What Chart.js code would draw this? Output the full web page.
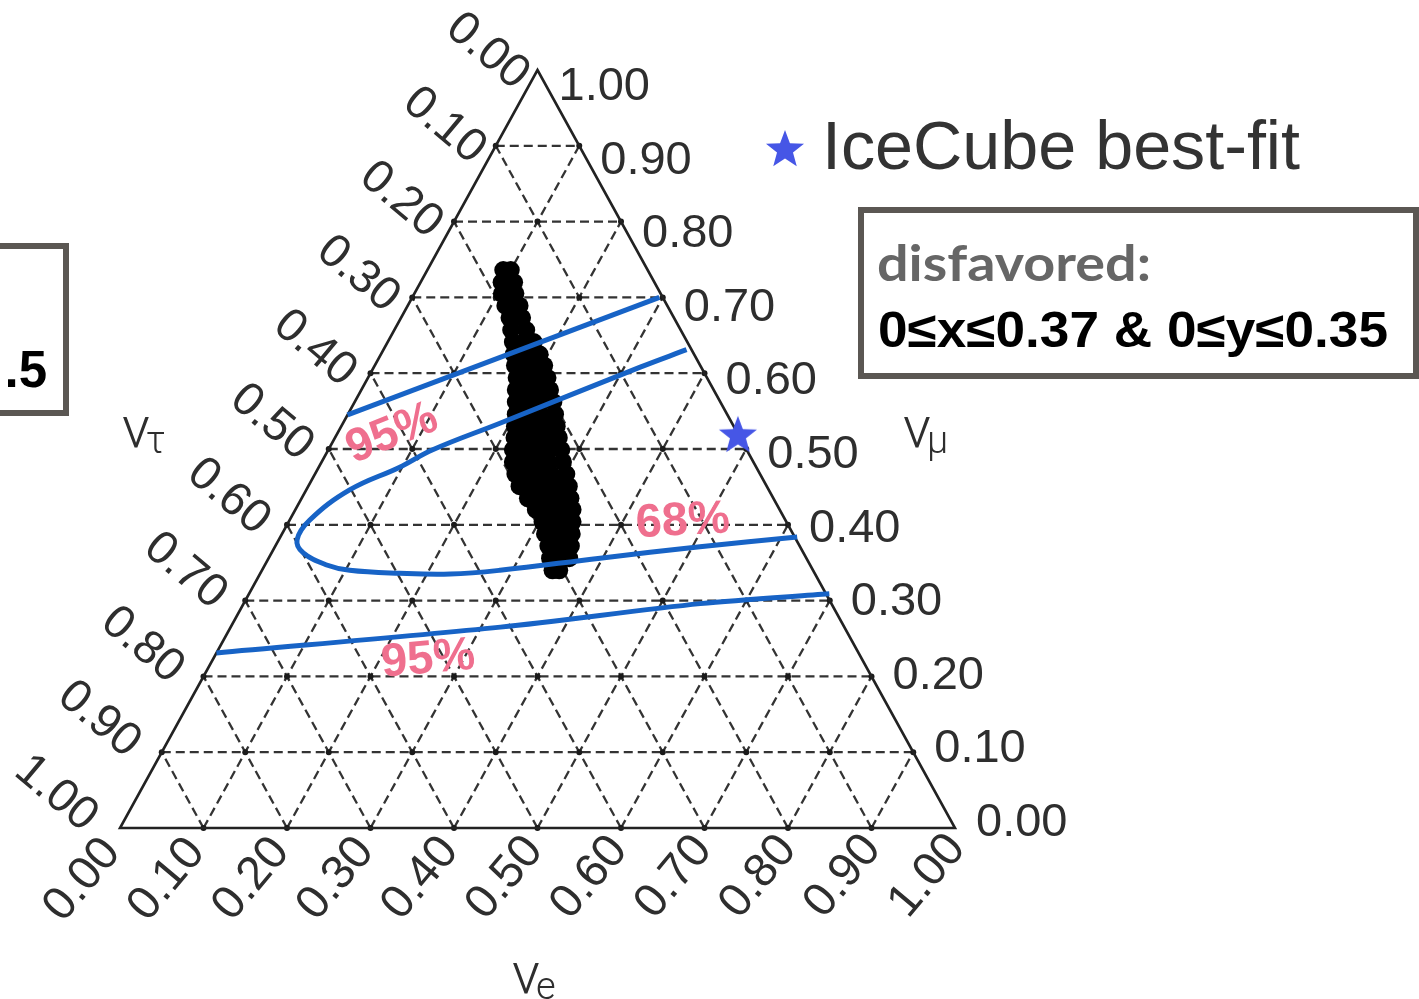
<!DOCTYPE html>
<html>
<head>
<meta charset="utf-8">
<script src="https://cdn.jsdelivr.net/npm/chart.js@4.4.1/dist/chart.umd.min.js"></script>
<style>
  html, body { margin: 0; padding: 0; background: #fff; }
  #chart { display: block; }
</style>
</head>
<body>
<canvas id="chart" width="1419" height="999"></canvas>
<script>
// Flavour fractions are stored as [nu_e, nu_mu]; nu_tau = 1 - nu_e - nu_mu
const tickValues = [0, 0.1, 0.2, 0.3, 0.4, 0.5, 0.6, 0.7, 0.8, 0.9, 1];
const tickLabels = ['0.00', '0.10', '0.20', '0.30', '0.40', '0.50', '0.60', '0.70', '0.80', '0.90', '1.00'];

// IceCube contours
const contour95Upper = [[0.000, 0.545], [0.296, 0.700]];
const contour68 = [
    [0.363, 0.631], [0.319, 0.608], [0.188, 0.534], [0.125, 0.499], [0.097, 0.476],
    [0.052, 0.446], [0.024, 0.406], [0.022, 0.380], [0.038, 0.363], [0.074, 0.347],
    [0.105, 0.340], [0.167, 0.336], [0.228, 0.335], [0.285, 0.340], [0.397, 0.356],
    [0.509, 0.371], [0.619, 0.384]
];
const contour95Lower = [[0.000, 0.231], [0.323, 0.265], [0.547, 0.296], [0.695, 0.309]];
const bestFit = [[0.48, 0.52]];

// model predictions: one nu_mu level per row, nu_e values along the row
const modelMu = [
    0.736, 0.720, 0.705, 0.689, 0.673, 0.657, 0.641, 0.625, 0.610, 0.594, 0.578, 0.562, 0.546,
    0.530, 0.515, 0.499, 0.483, 0.467, 0.451, 0.435, 0.420, 0.404, 0.388, 0.372, 0.356, 0.340
];
const modelE = [
    [0.091, 0.100], [0.097, 0.112], [0.105, 0.121], [0.117, 0.134], [0.130, 0.145],
    [0.140, 0.158], [0.150, 0.163, 0.175], [0.159, 0.174, 0.190],
    [0.168, 0.183, 0.196, 0.203], [0.178, 0.192, 0.206, 0.215], [0.185, 0.200, 0.214, 0.226],
    [0.193, 0.208, 0.222, 0.238], [0.201, 0.216, 0.231, 0.248],
    [0.208, 0.222, 0.237, 0.251, 0.258], [0.215, 0.229, 0.243, 0.258, 0.268],
    [0.221, 0.236, 0.250, 0.265, 0.279], [0.229, 0.244, 0.258, 0.272, 0.289],
    [0.240, 0.254, 0.268, 0.283, 0.301], [0.253, 0.268, 0.282, 0.297, 0.312],
    [0.271, 0.285, 0.300, 0.314, 0.322], [0.288, 0.303, 0.317, 0.332],
    [0.304, 0.318, 0.332, 0.340], [0.315, 0.330, 0.344, 0.347],
    [0.327, 0.341, 0.354], [0.337, 0.351, 0.360], [0.348, 0.356]
];

// contour annotations: text, position [nu_e, nu_mu], rotation in degrees
const regionLabels = [
    { text: '95%', at: [0.066, 0.520], angle: -22 },
    { text: '68%', at: [0.472, 0.404], angle: -3 },
    { text: '95%', at: [0.258, 0.222], angle: -5 }
];

const BLUE = '#1763c6';
const STAR_BLUE = '#4656e6';
const PINK = '#ef6f8e';
const TEXT = '#2e2e2e';
const TICK_FONT = '47px "Liberation Sans"';

// ternary -> cartesian (bottom-left = pure nu_tau, bottom-right = pure nu_e, top = pure nu_mu)
function toXY(p) {
    return { x: p[0] + p[1] / 2, y: p[1] };
}

const modelPoints = [];
modelMu.forEach((mu, i) => {
    modelE[i].forEach(e => modelPoints.push([e, mu]));
});

// filled five-point star used for the best-fit marker and the legend
function makeStar(size, color) {
    const c = document.createElement('canvas');
    c.width = size;
    c.height = size;
    const g = c.getContext('2d');
    const r = size / 2, ri = r * 0.42;
    g.beginPath();
    for (let i = 0; i < 10; i++) {
        const rad = i % 2 === 0 ? r : ri;
        const a = -Math.PI / 2 + i * Math.PI / 5;
        g.lineTo(r + rad * Math.cos(a), r + 2 + rad * Math.sin(a));
    }
    g.closePath();
    g.fillStyle = color;
    g.fill();
    return c;
}
const starImg = makeStar(40, STAR_BLUE);

function rotatedText(ctx, text, x, y, angle, align) {
    ctx.save();
    ctx.translate(x, y);
    ctx.rotate(angle * Math.PI / 180);
    ctx.textAlign = align;
    ctx.fillText(text, 0, 0);
    ctx.restore();
}

// text squeezed or stretched horizontally to a given width
function fitText(ctx, text, x, y, width) {
    const w = ctx.measureText(text).width;
    ctx.save();
    ctx.translate(x, y);
    ctx.scale(width / w, 1);
    ctx.fillText(text, 0, 0);
    ctx.restore();
}

function drawNu(ctx, x, y, sub) {
    ctx.save();
    ctx.fillStyle = TEXT;
    ctx.textAlign = 'left';
    ctx.textBaseline = 'alphabetic';
    ctx.font = '300 58px Roboto';
    ctx.fillText('\u03bd', x, y);
    const w = ctx.measureText('\u03bd').width;
    ctx.font = '300 38px Roboto';
    ctx.fillText(sub, x + w - 4, y + 6);
    ctx.restore();
}

// triangle frame, dashed grid, tick labels and annotations
const ternaryFrame = {
    id: 'ternaryFrame',
    beforeDatasetsDraw(chart) {
        const ctx = chart.ctx;
        const xs = chart.scales.x, ys = chart.scales.y;
        const px = (e, m) => [xs.getPixelForValue(e + m / 2), ys.getPixelForValue(m)];
        const seg = (a, b) => {
            ctx.beginPath();
            ctx.moveTo(a[0], a[1]);
            ctx.lineTo(b[0], b[1]);
            ctx.stroke();
        };
        ctx.save();
        ctx.strokeStyle = '#333';
        ctx.lineWidth = 2.3;
        ctx.setLineDash([9, 5]);
        tickValues.slice(1, -1).forEach(v => {
            seg(px(0, v), px(1 - v, v));
            seg(px(v, 0), px(v, 1 - v));
            seg(px(1 - v, 0), px(0, 1 - v));
        });
        ctx.setLineDash([]);

        // small dots where the grid lines cross
        ctx.fillStyle = '#1a1a1a';
        for (let i = 0; i <= 10; i++) {
            for (let j = 0; i + j <= 10; j++) {
                if ((i === 10) || (j === 10) || (i + j === 0)) continue;
                const p = px(i / 10, j / 10);
                ctx.beginPath();
                ctx.arc(p[0], p[1], 3, 0, Math.PI * 2);
                ctx.fill();
            }
        }

        ctx.strokeStyle = '#222';
        ctx.lineWidth = 2.6;
        ctx.lineJoin = 'miter';
        const a = px(0, 0), b = px(1, 0), c = px(0, 1);
        ctx.beginPath();
        ctx.moveTo(a[0], a[1]);
        ctx.lineTo(b[0], b[1]);
        ctx.lineTo(c[0], c[1]);
        ctx.closePath();
        ctx.stroke();
        ctx.restore();
    },
    afterDatasetsDraw(chart) {
        const ctx = chart.ctx;
        const xs = chart.scales.x, ys = chart.scales.y;
        const px = (e, m) => [xs.getPixelForValue(e + m / 2), ys.getPixelForValue(m)];
        ctx.save();
        ctx.fillStyle = TEXT;
        ctx.font = TICK_FONT;
        ctx.textBaseline = 'middle';

        tickValues.forEach((v, i) => {
            const label = tickLabels[i];
            // nu_mu along the right edge
            let p = px(1 - v, v);
            rotatedText(ctx, label, p[0] + 21, p[1] - 5 + 22 * v, 0, 'left');
            // nu_tau along the left edge
            p = px(0, 1 - v);
            rotatedText(ctx, label, p[0] - 15 - 14 * v, p[1] - 5 + 16 * (1 - v), 40, 'right');
            // nu_e along the base
            p = px(v, 0);
            rotatedText(ctx, label, p[0] - 8 + 10 * v, p[1] + 17 - 4 * v, -50, 'right');
        });

        drawNu(ctx, 122, 447, '\u03c4');
        drawNu(ctx, 903, 447, '\u03bc');
        drawNu(ctx, 512, 993, 'e');

        // contour confidence levels
        ctx.fillStyle = PINK;
        ctx.font = 'bold 47px "Liberation Sans"';
        ctx.textBaseline = 'middle';
        regionLabels.forEach(l => {
            const p = px(l.at[0], l.at[1]);
            rotatedText(ctx, l.text, p[0], p[1], l.angle, 'center');
        });

        // legend
        ctx.drawImage(starImg, 765, 128);
        ctx.fillStyle = '#333';
        ctx.font = '68px "Liberation Sans"';
        ctx.textAlign = 'left';
        ctx.textBaseline = 'middle';
        fitText(ctx, 'IceCube best-fit', 822, 150, 478);

        // disfavored region box
        ctx.strokeStyle = '#5b5753';
        ctx.lineWidth = 6;
        ctx.strokeRect(861, 210, 555, 166);
        ctx.textBaseline = 'alphabetic';
        ctx.fillStyle = '#666';
        ctx.font = 'bold 50px Lato';
        fitText(ctx, 'disfavored:', 877, 281, 274);
        ctx.fillStyle = '#000';
        ctx.font = 'bold 50px "Liberation Sans"';
        fitText(ctx, '0\u2264x\u22640.37 & 0\u2264y\u22640.35', 878, 347, 510);

        // neighbouring box cut at the left edge
        ctx.strokeRect(-10, 246, 76, 167);
        ctx.font = 'bold 51px "Liberation Sans"';
        ctx.textAlign = 'right';
        ctx.fillText('.5', 47, 387);
        ctx.restore();
    }
};

const chart = new Chart(document.getElementById('chart'), {
    type: 'scatter',
    data: {
        datasets: [
            {
                label: 'IceCube best-fit',
                data: bestFit.map(toXY),
                pointStyle: starImg,
                pointRadius: 20,
                clip: false,
                order: 0
            },
            {
                label: '95% CL',
                data: contour95Upper.map(toXY),
                showLine: true,
                borderColor: BLUE,
                borderWidth: 5,
                pointRadius: 0,
                clip: false,
                order: 1
            },
            {
                label: '68% CL',
                data: contour68.map(toXY),
                showLine: true,
                tension: 0.4,
                borderColor: BLUE,
                borderWidth: 5,
                pointRadius: 0,
                clip: false,
                order: 1
            },
            {
                label: '95% CL',
                data: contour95Lower.map(toXY),
                showLine: true,
                tension: 0.3,
                borderColor: BLUE,
                borderWidth: 5,
                pointRadius: 0,
                clip: false,
                order: 1
            },
            {
                label: 'model',
                data: modelPoints.map(toXY),
                pointRadius: 9,
                pointBackgroundColor: '#000',
                pointBorderWidth: 0,
                clip: false,
                order: 2
            }
        ]
    },
    options: {
        responsive: false,
        animation: false,
        layout: { padding: { left: 120, right: 464, top: 70, bottom: 171 } },
        scales: {
            x: { type: 'linear', min: 0, max: 1, display: false },
            y: { type: 'linear', min: 0, max: 1, display: false }
        },
        plugins: {
            legend: { display: false },
            tooltip: { enabled: false }
        }
    },
    plugins: [ternaryFrame]
});
</script>
</body>
</html>
